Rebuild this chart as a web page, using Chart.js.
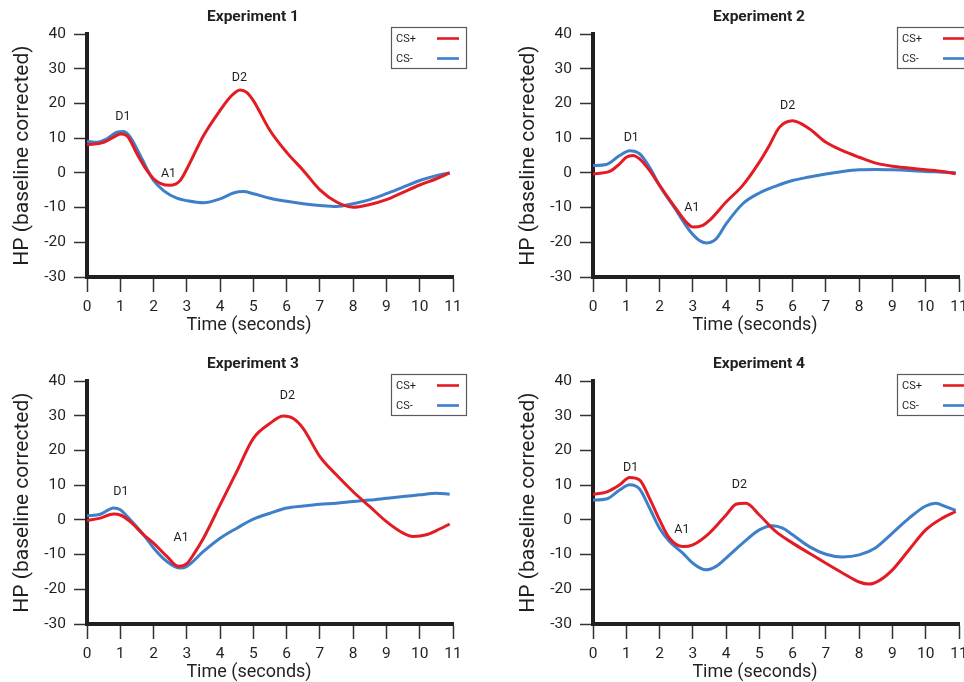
<!DOCTYPE html>
<html>
<head>
<meta charset="utf-8">
<script src="https://cdn.jsdelivr.net/npm/chart.js@4.4.1/dist/chart.umd.min.js"></script>
<style>
  html, body { margin: 0; padding: 0; background: #fff; overflow: hidden; }
  #wrap { position: relative; width: 964px; height: 682px; overflow: hidden; }
  canvas { position: absolute; }
</style>
</head>
<body>
<div id="wrap">
  <canvas id="c1" width="506" height="347" style="left:0;top:0"></canvas>
  <canvas id="c2" width="506" height="347" style="left:506px;top:0"></canvas>
  <canvas id="c3" width="506" height="347" style="left:0;top:347px"></canvas>
  <canvas id="c4" width="506" height="347" style="left:506px;top:347px"></canvas>
</div>
<script>
// --- data (time in s, HP in bpm, baseline corrected) ---
const xTicks = [0, 1, 2, 3, 4, 5, 6, 7, 8, 9, 10, 11];
const yTicks = [-30, -20, -10, 0, 10, 20, 30, 40];
const seriesNames = ["CS+", "CS-"];
const peakNames = ["D1", "A1", "D2"];

const exp1PlusT  = [0, 0.5, 0.8, 1.0, 1.2, 1.5, 1.8, 2.0, 2.2, 2.5, 2.8, 3.0, 3.5, 4.0, 4.3, 4.6, 4.8, 5.0, 5.5, 6.0, 6.5, 7.0, 7.5, 8.0, 8.5, 9.0, 9.5, 10.0, 10.5, 10.9];
const exp1PlusV  = [8.1, 8.8, 10.3, 11.2, 10.7, 5.5, 0.7, -1.7, -3, -3.6, -2.2, 1.1, 10.7, 18, 21.8, 23.9, 23.2, 20.8, 12.2, 5.9, 0.7, -4.9, -8.4, -9.9, -9.1, -7.7, -5.6, -3.5, -1.7, 0];
const exp1MinusT = [0, 0.3, 0.6, 0.9, 1.1, 1.3, 1.6, 2.0, 2.3, 2.7, 3.0, 3.5, 4.0, 4.4, 4.7, 5.0, 5.5, 6.0, 6.5, 7.0, 7.5, 8.0, 8.5, 9.0, 9.5, 10.0, 10.5, 10.9];
const exp1MinusV = [9.1, 8.8, 9.8, 11.7, 11.9, 10.3, 5, -2.2, -5.1, -7.3, -8, -8.6, -7.5, -5.8, -5.4, -6, -7.3, -8.2, -8.9, -9.4, -9.7, -8.9, -7.7, -6, -4.1, -2.2, -0.8, 0];
const exp1PeakT  = [1.08, 2.45, 4.58];
const exp1PeakV  = [16, -0.3, 27.3];

const exp2PlusT  = [0, 0.5, 0.8, 1.0, 1.2, 1.4, 1.7, 2.0, 2.5, 2.8, 3.0, 3.3, 3.5, 4.0, 4.5, 5.0, 5.3, 5.6, 6.0, 6.5, 7.0, 7.5, 8.0, 8.5, 9.0, 9.5, 10.0, 10.5, 10.9];
const exp2PlusV  = [-0.3, 0.4, 2.6, 4.5, 5, 4, 0.7, -3.6, -10.4, -14.2, -15.6, -15.1, -13.7, -8.4, -3.6, 3.1, 7.9, 13.1, 15, 12.7, 8.8, 6.4, 4.5, 2.8, 1.9, 1.4, 0.9, 0.4, -0.3];
const exp2MinusT = [0, 0.4, 0.8, 1.1, 1.4, 1.7, 2.0, 2.5, 2.9, 3.2, 3.4, 3.7, 4.0, 4.5, 5.0, 5.5, 6.0, 6.5, 7.0, 7.5, 8.0, 8.5, 9.0, 9.5, 10.0, 10.5, 10.9];
const exp2MinusV = [2.1, 2.4, 5, 6.4, 5.5, 1.6, -3.6, -10.8, -16.6, -19.5, -20.2, -19, -14.7, -8.9, -5.8, -3.8, -2.2, -1.2, -0.3, 0.4, 0.9, 1, 0.9, 0.7, 0.4, 0.2, 0];
const exp2PeakT  = [1.15, 2.97, 5.85];
const exp2PeakV  = [10, -10.2, 19.4];

const exp3PlusT  = [0, 0.4, 0.8, 1.0, 1.3, 1.7, 2.0, 2.4, 2.75, 3.0, 3.2, 3.5, 4.0, 4.5, 5.0, 5.5, 5.9, 6.2, 6.5, 7.0, 7.5, 8.0, 8.5, 9.0, 9.5, 9.8, 10.2, 10.5, 10.9];
const exp3PlusV  = [-0.2, 0.5, 1.7, 1.4, -0.5, -4.3, -6.7, -10.5, -13.4, -12.6, -10, -5.3, 4.3, 13.9, 23.5, 27.8, 29.9, 29.2, 26.3, 18.2, 12.9, 8.1, 3.8, -0.5, -3.8, -4.8, -4.3, -3.1, -1.2];
const exp3MinusT = [0, 0.4, 0.8, 1.0, 1.3, 1.7, 2.0, 2.4, 2.8, 3.0, 3.5, 4.0, 4.5, 5.0, 5.5, 6.0, 6.5, 7.0, 7.5, 8.0, 8.5, 9.0, 9.5, 10.0, 10.5, 10.9];
const exp3MinusV = [1.2, 1.6, 3.4, 2.9, 0, -4.3, -8.1, -12, -13.9, -13.4, -9.1, -5.3, -2.4, 0.2, 1.9, 3.4, 4, 4.5, 4.8, 5.3, 5.7, 6.2, 6.7, 7.2, 7.7, 7.4];
const exp3PeakT  = [1.02, 2.83, 6.02];
const exp3PeakV  = [8, -5.3, 35.6];

const exp4PlusT  = [0, 0.4, 0.8, 1.1, 1.4, 1.7, 2.0, 2.3, 2.7, 3.0, 3.5, 4.0, 4.3, 4.6, 5.0, 5.5, 6.0, 6.5, 7.0, 7.5, 8.0, 8.3, 8.6, 9.0, 9.5, 10.0, 10.5, 10.9];
const exp4PlusV  = [7.4, 8, 10.1, 12.2, 11.5, 6.2, 0, -5.3, -7.7, -7.2, -3.8, 1.4, 4.5, 4.8, 1.4, -3.4, -6.7, -9.6, -12.5, -15.3, -17.9, -18.5, -17.5, -14.4, -8.6, -2.9, 0.5, 2.4];
const exp4MinusT = [0, 0.4, 0.8, 1.1, 1.4, 1.7, 2.0, 2.3, 2.7, 3.0, 3.4, 3.7, 4.0, 4.5, 5.0, 5.4, 5.7, 6.0, 6.5, 7.0, 7.5, 8.0, 8.5, 9.0, 9.5, 10.0, 10.3, 10.6, 10.9];
const exp4MinusV = [5.7, 6, 8.6, 10.1, 8.9, 3.4, -2.4, -6.2, -9.6, -12.5, -14.4, -13.4, -11, -6.7, -2.9, -1.7, -2.4, -4.3, -7.7, -9.9, -10.7, -10.1, -8, -3.8, 0.5, 4, 4.8, 3.8, 2.7];
const exp4PeakT  = [1.13, 2.67, 4.4];
const exp4PeakV  = [15.1, -2.9, 10];

const RED  = "#e31b23";
const BLUE = "#3d7fc8";
const INK  = "#231f20";

Chart.defaults.font.family = "Roboto, 'Liberation Sans', sans-serif";
Chart.defaults.color = INK;

function pts(ts, vs) {
  return ts.map((t, i) => ({ x: t, y: vs[i] }));
}

// titles, x-axis label, legend box and peak labels
const decor = {
  id: "decor",
  afterDraw(chart, args, opts) {
    const { ctx, chartArea: ca, scales } = chart;
    ctx.save();
    ctx.fillStyle = INK;
    ctx.textAlign = "center";
    ctx.textBaseline = "middle";

    ctx.font = "bold 15.5px Roboto";
    ctx.fillText(opts.title, chart.width / 2, 17);

    ctx.font = "18px Roboto";
    ctx.fillText("Time (seconds)", (ca.left + ca.right) / 2 - 21, 325);

    ctx.font = "12.5px Roboto";
    peakNames.forEach((n, i) => {
      ctx.fillText(n, scales.x.getPixelForValue(opts.peakT[i]), scales.y.getPixelForValue(opts.peakV[i]));
    });

    // legend
    ctx.strokeStyle = "#5a5a5a";
    ctx.lineWidth = 1.2;
    ctx.strokeRect(391.5, 27.5, 75, 41);
    ctx.font = "11px Roboto";
    ctx.textAlign = "left";
    [RED, BLUE].forEach((c, i) => {
      const y = 38.5 + i * 20;
      ctx.fillStyle = INK;
      ctx.fillText(seriesNames[i], 396, y + 0.5);
      ctx.strokeStyle = c;
      ctx.lineWidth = 2.6;
      ctx.beginPath();
      ctx.moveTo(437, y);
      ctx.lineTo(459, y);
      ctx.stroke();
    });
    ctx.restore();
  },
};

function makePanel(id, title, plusT, plusV, minusT, minusV, peakT, peakV) {
  const line = (data, color) => ({
    data,
    borderColor: color,
    borderWidth: 3,
    pointRadius: 0,
    fill: false,
    cubicInterpolationMode: "monotone",
  });
  new Chart(document.getElementById(id), {
    type: "line",
    data: {
      datasets: [
        line(pts(plusT, plusV), RED),
        line(pts(minusT, minusV), BLUE),
      ],
    },
    plugins: [decor],
    options: {
      responsive: false,
      animation: false,
      devicePixelRatio: 1,
      layout: { padding: { top: 34, right: 53, left: 0, bottom: 0 } },
      plugins: {
        legend: { display: false },
        tooltip: { enabled: false },
        decor: { title, peakT, peakV },
      },
      scales: {
        x: {
          type: "linear",
          min: xTicks[0],
          max: xTicks[xTicks.length - 1],
          afterBuildTicks: (s) => { s.ticks = xTicks.map((v) => ({ value: v })); },
          ticks: { font: { size: 15.5 }, color: INK, padding: 6, maxRotation: 0, autoSkip: false },
          grid: { drawOnChartArea: false, drawTicks: true, tickLength: 15, tickWidth: 1.5, tickColor: "#333" },
          border: { display: true, width: 4, color: INK },
          afterFit: (s) => { s.height = 70; },
        },
        y: {
          min: yTicks[0],
          max: yTicks[yTicks.length - 1],
          afterBuildTicks: (s) => { s.ticks = yTicks.map((v) => ({ value: v })); },
          ticks: { font: { size: 15.5 }, color: INK, padding: 8 },
          grid: { drawOnChartArea: false, drawTicks: true, tickLength: 13, tickWidth: 1.5, tickColor: "#333" },
          border: { display: true, width: 4, color: INK },
          title: {
            display: true,
            text: "HP (baseline corrected)",
            font: { size: 21 },
            color: INK,
            padding: { top: 10, bottom: 0 },
          },
          afterFit: (s) => { s.width = 87; },
        },
      },
    },
  });
}

makePanel("c1", "Experiment 1", exp1PlusT, exp1PlusV, exp1MinusT, exp1MinusV, exp1PeakT, exp1PeakV);
makePanel("c2", "Experiment 2", exp2PlusT, exp2PlusV, exp2MinusT, exp2MinusV, exp2PeakT, exp2PeakV);
makePanel("c3", "Experiment 3", exp3PlusT, exp3PlusV, exp3MinusT, exp3MinusV, exp3PeakT, exp3PeakV);
makePanel("c4", "Experiment 4", exp4PlusT, exp4PlusV, exp4MinusT, exp4MinusV, exp4PeakT, exp4PeakV);
</script>
</body>
</html>
